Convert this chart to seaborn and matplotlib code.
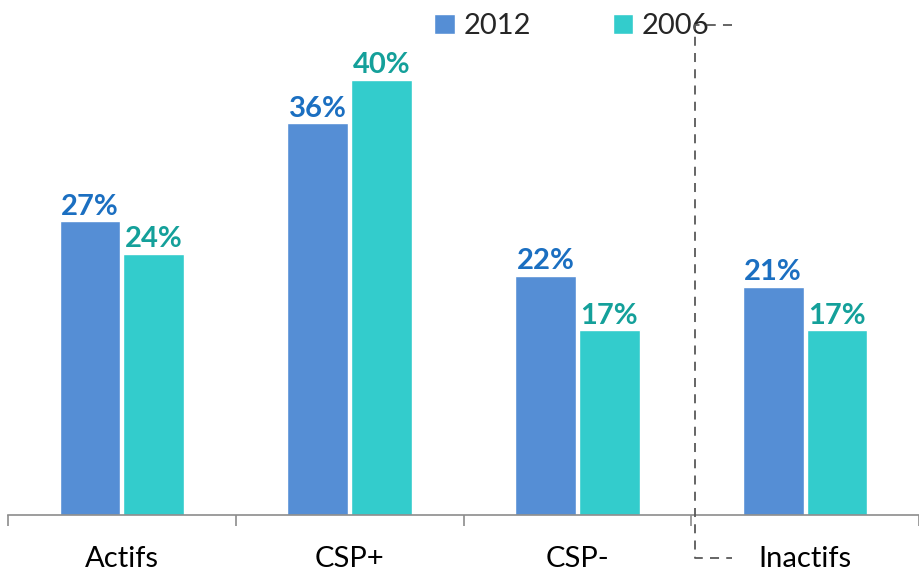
import matplotlib
matplotlib.use("Agg")
import matplotlib.pyplot as plt
from matplotlib.lines import Line2D
import pandas as pd
import seaborn as sns

categories = ["Actifs", "CSP+", "CSP-", "Inactifs"]
years = ["2012", "2006"]
values_2012 = [27, 36, 22, 21]
values_2006 = [24, 40, 17, 17]

bar_colors = {"2012": "#558ED5", "2006": "#33CCCC"}
text_colors = {"2012": "#1B6FC1", "2006": "#14A09A"}

df = pd.DataFrame({
    "categorie": categories * 2,
    "annee": ["2012"] * 4 + ["2006"] * 4,
    "part": values_2012 + values_2006,
})

sns.set_theme(style="white")
plt.rcParams["font.family"] = ["Lato", "DejaVu Sans"]

fig = plt.figure(figsize=(9.19, 5.74), dpi=100)
ax = fig.add_axes([8 / 919, 1 - 515 / 574, 1 - 8 / 919, 515 / 574])

sns.barplot(data=df, x="categorie", y="part", hue="annee", hue_order=years,
            order=categories, palette=bar_colors, width=0.56, gap=0.05,
            saturation=1, ax=ax, legend=True)

# value labels above the bars
for cont, yr in zip(ax.containers, years):
    ax.bar_label(cont, labels=[f"{v:.0f}%" for v in cont.datavalues],
                 padding=1, fontsize=21, fontweight="bold",
                 color=text_colors[yr])

ax.set_xlim(-0.5, 3.5)
ax.set_ylim(0, 515 / 10.88)
ax.set_xlabel("")
ax.set_ylabel("")
ax.set_yticks([])
ax.tick_params(axis="x", length=0, pad=22, labelsize=21, labelcolor="#000000")
ax.set_xticks([-0.5, 0.5, 1.5, 2.5, 3.5], minor=True)
ax.tick_params(axis="x", which="minor", length=8, width=1.2, color="#8C8C8C",
               bottom=True)
for side in ["top", "right", "left"]:
    ax.spines[side].set_visible(False)
ax.spines["bottom"].set_color("#8C8C8C")
ax.spines["bottom"].set_linewidth(1.2)

leg = ax.legend(loc="center", bbox_to_anchor=(572 / 919, 1 - 26 / 574),
                bbox_transform=fig.transFigure, ncol=2, frameon=False,
                fontsize=21, handlelength=0.7, handleheight=0.7,
                handletextpad=0.3, columnspacing=2.8)

# dashed bracket separating Inactifs
xs = [732 / 919, 695 / 919, 695 / 919, 732 / 919]
ys = [1 - 25 / 574, 1 - 25 / 574, 1 - 558 / 574, 1 - 558 / 574]
fig.add_artist(Line2D(xs, ys, transform=fig.transFigure, color="#595959",
                      linestyle=(0, (5, 4)), linewidth=1.3))

fig.savefig("out.png", dpi=100)
